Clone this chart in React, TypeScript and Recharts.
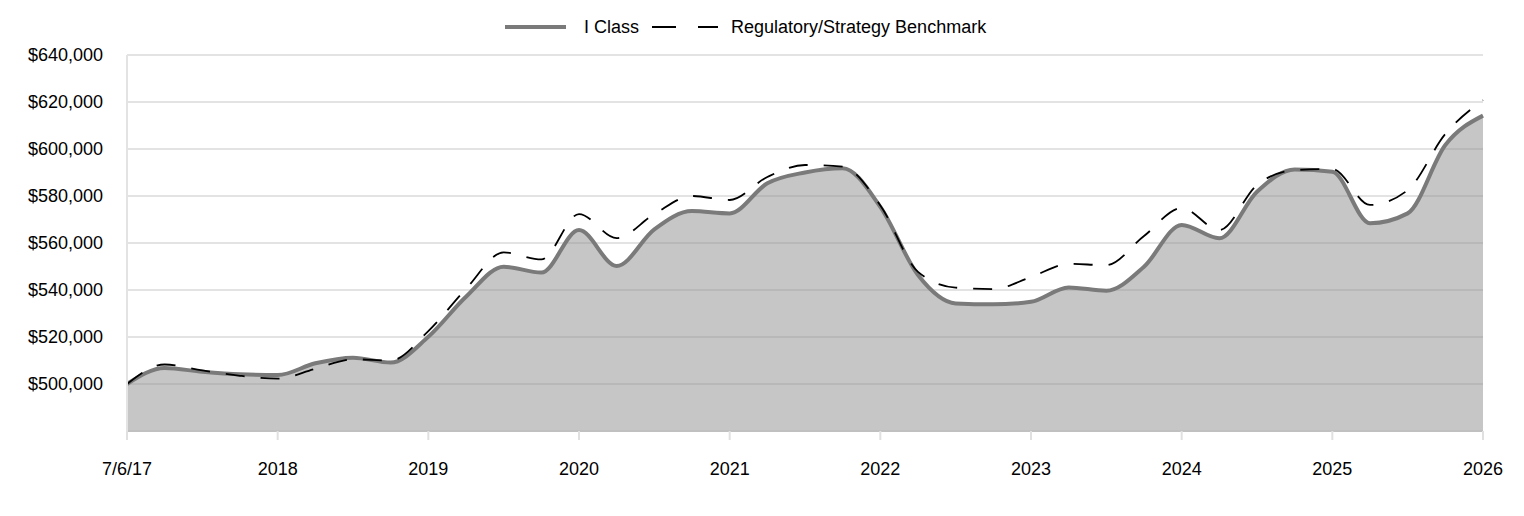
import React from 'react';
import { ComposedChart, Area, Line, XAxis, YAxis, CartesianGrid, Legend } from 'recharts';

const tickLabels = ['7/6/17', '2018', '2019', '2020', '2021', '2022', '2023', '2024', '2025', '2026'];

const iClass = [
  500000, 506800, 505200, 504100, 503800, 508800, 511200, 509100,
  520100, 537100, 549900, 547400, 565500, 550200, 565800, 573600,
  572600, 585400, 590000, 591800, 575400, 546400, 534300, 533900,
  535000, 541100, 539700, 549900, 567700, 562000, 581800, 591300,
  590300, 568400, 572600, 601700, 614200,
];

const benchmark = [
  500000, 508300, 505800, 503500, 502300, 506500, 510500, 510000,
  522500, 540500, 556000, 553000, 572300, 562100, 572300, 580000,
  578300, 588100, 593200, 592500, 576000, 547700, 541000, 540400,
  545500, 551100, 550600, 563000, 574900, 565500, 584700, 591000,
  591500, 576200, 582500, 606400, 620800,
];

const yTicks = [500000, 520000, 540000, 560000, 580000, 600000, 620000, 640000];
const xTicks = tickLabels.map((_, i) => i);

const data = iClass.map((v, i) => ({ t: i / 4, iClass: v, bench: benchmark[i] }));

const FONT = '"Liberation Sans", Arial, sans-serif';

const fmt = (v: number) => '$' + v.toLocaleString('en-US');

const LegendContent = () => (
  <div style={{ height: 0, position: 'relative' }}>
    <div
      style={{
        position: 'absolute',
        top: 15,
        left: 505,
        display: 'flex',
        alignItems: 'center',
        fontFamily: FONT,
        fontSize: 18,
        color: '#000',
        whiteSpace: 'nowrap',
        height: 24,
      }}
    >
      <svg width={61} height={10} style={{ marginRight: 18 }}>
        <line x1={0} y1={5} x2={61} y2={5} stroke="#7a7a7a" strokeWidth={4} />
      </svg>
      <span style={{ marginRight: 13 }}>I Class</span>
      <svg width={66} height={10} style={{ marginRight: 13 }}>
        <line x1={0} y1={5} x2={66} y2={5} stroke="#000" strokeWidth={2} strokeDasharray="24 22" />
      </svg>
      <span>Regulatory/Strategy Benchmark</span>
    </div>
  </div>
);

export default function App() {
  return (
    <div>
      <style>{`body{margin:0;}`}</style>
      <ComposedChart
        width={1524}
        height={516}
        data={data}
        margin={{ top: 55, right: 41, bottom: 55, left: 0 }}
      >
        <CartesianGrid vertical={false} stroke="#e3e3e3" strokeWidth={2} />
        <XAxis
          dataKey="t"
          type="number"
          domain={[0, 9]}
          ticks={xTicks}
          tickFormatter={(v: number) => tickLabels[v]}
          interval={0}
          height={30}
          stroke="#c8c8c8"
          tickLine={{ stroke: '#e0e0e0', strokeWidth: 2 }}
          axisLine={{ stroke: '#c0c0c0', strokeWidth: 2 }}
          tickSize={9}
          tickMargin={22}
          tick={{ fill: '#000', fontSize: 18, fontFamily: FONT }}
        />
        <YAxis
          type="number"
          domain={[480000, 640000]}
          ticks={yTicks}
          interval={0}
          width={127}
          tickFormatter={fmt}
          tickLine={false}
          tickSize={0}
          tickMargin={24}
          axisLine={{ stroke: '#e3e3e3', strokeWidth: 2 }}
          tick={{ fill: '#000', fontSize: 18, fontFamily: FONT }}
        />
        <Legend verticalAlign="top" content={<LegendContent />} wrapperStyle={{ top: 0, left: 0, width: 1524 }} />
        <Area
          type="monotone"
          dataKey="iClass"
          name="I Class"
          stroke="#7a7a7a"
          strokeWidth={4}
          fill="#8d8d8d"
          fillOpacity={0.5}
          isAnimationActive={false}
          dot={false}
          activeDot={false}
        />
        <Line
          type="monotone"
          dataKey="bench"
          name="Regulatory/Strategy Benchmark"
          stroke="#000"
          strokeWidth={1.8}
          strokeDasharray="19 16"
          dot={false}
          activeDot={false}
          isAnimationActive={false}
        />
      </ComposedChart>
    </div>
  );
}
